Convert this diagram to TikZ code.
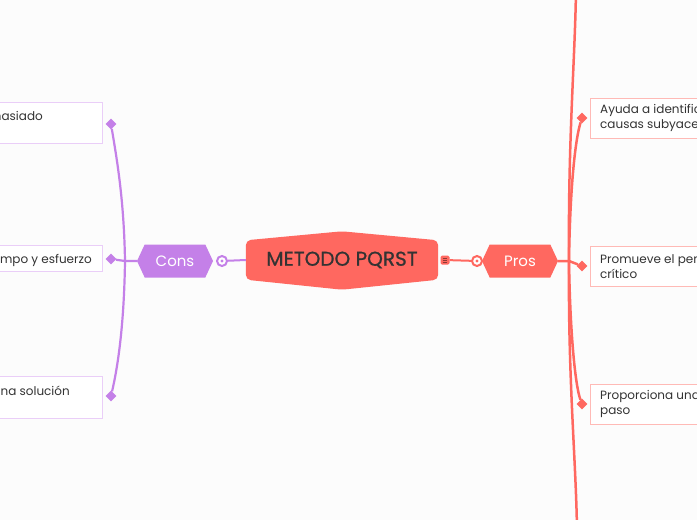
\documentclass[tikz,border=0pt]{standalone}
\usepackage{fontspec}
\setmainfont{Poppins}
\newfontfamily\rootfont{Poppins}[FakeBold=0.8]
\usepackage{tikz}
\usetikzlibrary{shapes.geometric,shapes.symbols,positioning,backgrounds,calc}
\definecolor{myred}{RGB}{255,104,96}
\definecolor{myredlt}{RGB}{255,186,182}
\definecolor{mypurple}{RGB}{196,128,232}
\definecolor{mypurplelt}{RGB}{234,206,248}
\definecolor{mydark}{RGB}{51,51,51}
\definecolor{mybg}{RGB}{252,252,252}
\tikzset{
  topic/.style={signal, signal to=east and west, signal pointer angle=130,
                minimum width=76pt, minimum height=33pt, inner sep=0pt,
                font=\fontsize{15}{15}\selectfont, text=white},
  leafbox/.style={draw, fill=white, line width=0.8pt, minimum width=150pt,
                  inner sep=0pt},
  tipmark/.style={diamond, minimum size=11pt, inner sep=0pt},
  ring/.style={circle, draw, line width=2pt, fill=white, minimum size=10pt,
               inner sep=0pt},
  leaftext/.style={font=\fontsize{12}{15}\selectfont, text=mydark,
                   align=left, inner sep=0pt},
}

\begin{document}
\begin{tikzpicture}[x=1pt, y=-1pt]
  \useasboundingbox (0,0) rectangle (697,520);
  \clip (0,0) rectangle (697,520);

  % central topic
  \node[minimum width=192pt, minimum height=39pt, inner sep=0pt,
        font=\rootfont\fontsize{20}{20}\selectfont, text=mydark] (root) at (342,260){METODO PQRST};
  \node[topic, fill=myred] (pros) at (520,261){Pros};
  \node[topic, fill=mypurple] (cons) at (175,261){Cons};

  \node[fill=myred, rounded corners=1.5pt, minimum size=9pt, inner sep=0pt] (fold) at (445,260){};
  \foreach \d in {-2,0,2}{
    \draw[myred!55!black, line width=0.7pt] ($(fold.center)+(-2.4,\d)$) -- ++(4.8,0);
  }
  \node[ring, draw=myred] (pring) at (477,261){};
  \fill[myred] (pring) circle (1.6pt);
  \node[ring, draw=mypurple] (cring) at (222,261){};
  \fill[mypurple] (cring) circle (1.6pt);

  % right side
  \foreach \y/\n/\la/\lb in {118/1/Ayuda a identificar/causas subyacentes,
                             266/2/Promueve el pensamiento/crítico,
                             404/3/Proporciona una/paso}{
    \node[leafbox, draw=myredlt, minimum height=40pt, anchor=west] (rbox\n) at (590,\y){};
    \node[tipmark, fill=myred] (rd\n) at (582,\y){};
    \node[leaftext, anchor=west] (rtext\n) at (600,\y){\la\\\lb};
  }

  % left side
  \foreach \y/\h/\n in {122.5/41/1, 258/26/2, 397/42/3}{
    \node[leafbox, draw=mypurplelt, minimum height=\h pt, anchor=east] (lbox\n) at (103,\y){};
  }
  \node[tipmark, fill=mypurple] (ld1) at (111,124){};
  \node[tipmark, fill=mypurple] (ld2) at (111,259){};
  \node[tipmark, fill=mypurple] (ld3) at (111,396){};
  \node[leaftext, anchor=base east] (ltext1) at (43,120){demasiado};
  \node[leaftext, anchor=base east] (ltext2) at (92,263){tiempo y esfuerzo};
  \node[leaftext, anchor=base east] (ltext3) at (70,395){una solución};

  \coordinate (rj) at (569,261);
  \coordinate (rtop) at (576,-10);
  \coordinate (rbot) at (577,530);
  \coordinate (lj) at (125,261);

  \begin{scope}[on background layer]
    \fill[mybg] (0,0) rectangle (697,520);
    \fill[myred, rounded corners=5pt] (root.south west) -- (root.north west)
      -- ($(root.north)+(0,-9)$) -- (root.north east) -- (root.south east)
      -- ($(root.south)+(0,10)$) -- cycle;
    % connectors
    \draw[myred, line width=2pt] (fold) -- (pring);
    \draw[mypurple, line width=2pt] (root.west) -- (cring);
    \draw[myred, line width=2.5pt] (pros.east) -- (rj) -- (rd2);
    \draw[myred, line width=2.5pt] (rj) .. controls (568,140) and (575,60) .. (rtop);
    \draw[myred, line width=2.5pt] (rj) .. controls (568,380) and (576,460) .. (rbot);
    \draw[myred, line width=2.5pt] (rj) .. controls (570,190) and (575,140) .. (rd1);
    \draw[myred, line width=2.5pt] (rj) .. controls (570,330) and (575,385) .. (rd3);
    \draw[mypurple, line width=2.2pt] (cons.west) -- (lj) -- (ld2);
    \draw[mypurple, line width=2.2pt] (lj) .. controls (124,200) and (117,160) .. (ld1);
    \draw[mypurple, line width=2.2pt] (lj) .. controls (124,330) and (117,370) .. (ld3);
  \end{scope}
\end{tikzpicture}
\end{document}
